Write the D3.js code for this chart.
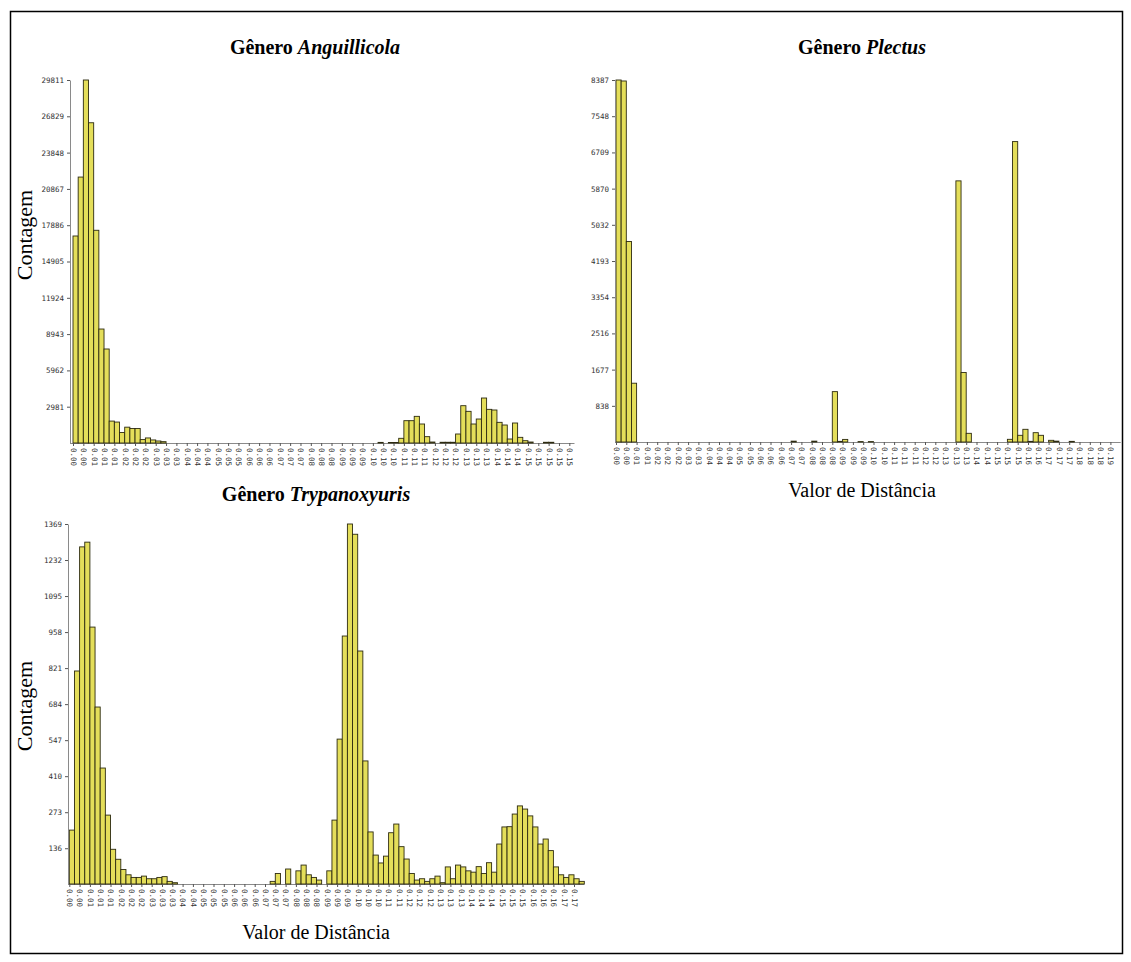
<!DOCTYPE html>
<html>
<head>
<meta charset="utf-8">
<script src="https://cdn.jsdelivr.net/npm/d3@7"></script>
<style>
  body { margin: 0; background: #fff; }
  svg { display: block; }
</style>
</head>
<body>
<svg id="chart" width="1131" height="962"></svg>
<script>
// Pairwise distance histograms (counts per distance bin) for three nematode genera.

const anguillicolaCounts = [
  17000, 21840, 29811, 26300, 17470, 9360, 7720, 1800, 1720, 860,
  1300, 1190, 1190, 280, 415, 250, 165, 110, 0, 0,
  0, 0, 0, 0, 0, 0, 0, 0, 0, 0,
  0, 0, 0, 0, 0, 0, 0, 0, 0, 0,
  0, 0, 0, 0, 0, 0, 0, 0, 0, 0,
  0, 0, 0, 0, 0, 0, 0, 0, 0, 50,
  0, 40, 40, 385, 1833, 1833, 2189, 1560, 520, 80,
  0, 60, 60, 60, 739, 3064, 2600, 1560, 1970, 3694,
  2764, 2710, 1697, 1478, 328, 1642, 465, 190, 80, 0,
  0, 60, 60, 0, 0, 0, 0
];
const anguillicolaYTicks = [2981, 5962, 8943, 11924, 14905, 17886, 20867, 23848, 26829, 29811];
const anguillicolaXLabels = [
  "0.00", "0.00", "0.01", "0.01", "0.01", "0.02", "0.02", "0.02", "0.03", "0.03",
  "0.03", "0.04", "0.04", "0.04", "0.05", "0.05", "0.05", "0.06", "0.06", "0.06",
  "0.07", "0.07", "0.07", "0.08", "0.08", "0.08", "0.09", "0.09", "0.09", "0.10",
  "0.10", "0.10", "0.11", "0.11", "0.11", "0.12", "0.12", "0.12", "0.13", "0.13",
  "0.13", "0.14", "0.14", "0.14", "0.15", "0.15", "0.15", "0.15", "0.15"
];

const plectusCounts = [
  8387, 8364, 4645, 1362, 0, 0, 0, 0, 0, 0,
  0, 0, 0, 0, 0, 0, 0, 0, 0, 0,
  0, 0, 0, 0, 0, 0, 0, 0, 0, 0,
  0, 0, 0, 0, 20, 0, 0, 0, 20, 0,
  0, 0, 1167, 15, 60, 0, 0, 10, 0, 10,
  0, 0, 0, 0, 0, 0, 0, 0, 0, 0,
  0, 0, 0, 0, 0, 0, 6050, 1610, 201, 0,
  0, 0, 0, 0, 0, 0, 62, 6960, 155, 294,
  15, 216, 155, 0, 39, 20, 0, 0, 15, 0,
  0, 0, 0, 0, 0, 0, 0, 0
];
const plectusYTicks = [838, 1677, 2516, 3354, 4193, 5032, 5870, 6709, 7548, 8387];
const plectusXLabels = [
  "0.00", "0.00", "0.01", "0.01", "0.02", "0.02", "0.02", "0.03", "0.03", "0.04",
  "0.04", "0.04", "0.05", "0.05", "0.06", "0.06", "0.06", "0.07", "0.07", "0.08",
  "0.08", "0.08", "0.09", "0.09", "0.09", "0.10", "0.10", "0.11", "0.11", "0.11",
  "0.12", "0.12", "0.13", "0.13", "0.13", "0.14", "0.14", "0.15", "0.15", "0.15",
  "0.16", "0.16", "0.17", "0.17", "0.17", "0.18", "0.18", "0.18", "0.19"
];

const trypanoxyurisCounts = [
  205, 810, 1282, 1300, 977, 673, 441, 262, 132, 94,
  55, 35, 25, 25, 30, 20, 20, 25, 28, 10,
  5, 0, 0, 0, 0, 0, 0, 0, 0, 0,
  0, 0, 0, 0, 0, 0, 0, 0, 0, 10,
  40, 0, 57, 0, 50, 72, 35, 25, 15, 0,
  50, 243, 551, 943, 1369, 1330, 886, 468, 198, 110,
  80, 106, 195, 228, 142, 95, 40, 15, 20, 10,
  20, 30, 5, 65, 20, 72, 65, 50, 45, 66,
  40, 81, 45, 152, 217, 218, 266, 297, 285, 259,
  217, 152, 171, 127, 65, 35, 25, 35, 20, 10
];
const trypanoxyurisYTicks = [136, 273, 410, 547, 684, 821, 958, 1095, 1232, 1369];
const trypanoxyurisXLabels = [
  "0.00", "0.00", "0.01", "0.01", "0.01", "0.02", "0.02", "0.02", "0.03", "0.03",
  "0.03", "0.04", "0.04", "0.05", "0.05", "0.05", "0.06", "0.06", "0.06", "0.07",
  "0.07", "0.07", "0.08", "0.08", "0.08", "0.09", "0.09", "0.09", "0.10", "0.10",
  "0.10", "0.11", "0.11", "0.12", "0.12", "0.12", "0.13", "0.13", "0.13", "0.14",
  "0.14", "0.14", "0.15", "0.15", "0.15", "0.16", "0.16", "0.16", "0.17", "0.17"
];

const yAxisTitle = "Contagem";
const xAxisTitle = "Valor de Distância";

const panels = [
  { genus: "Anguillicola", counts: anguillicolaCounts, yTicks: anguillicolaYTicks, xLabels: anguillicolaXLabels,
    axisX: 70, barX: 73, barW: 5.17, top: 80, base: 443,
    titleX: 315, titleY: 54, yTitle: { x: 32, y: 235 }, xTitle: null },
  { genus: "Plectus", counts: plectusCounts, yTicks: plectusYTicks, xLabels: plectusXLabels,
    axisX: 615, barX: 616, barW: 5.15, top: 80, base: 442,
    titleX: 862, titleY: 54, yTitle: null, xTitle: { x: 862, y: 497 } },
  { genus: "Trypanoxyuris", counts: trypanoxyurisCounts, yTicks: trypanoxyurisYTicks, xLabels: trypanoxyurisXLabels,
    axisX: 68, barX: 69.3, barW: 5.15, top: 524, base: 884,
    titleX: 316, titleY: 501, yTitle: { x: 32, y: 706 }, xTitle: { x: 316, y: 939 } }
];

const svg = d3.select("#chart");
const serif = "'Liberation Serif', 'Times New Roman', serif";
const mono = "'DejaVu Sans Mono', monospace";

svg.append("rect")
  .attr("x", 10.5).attr("y", 11.5)
  .attr("width", 1112).attr("height", 942)
  .attr("fill", "#fff").attr("stroke", "#000").attr("stroke-width", 1.5);

function drawPanel(p) {
  const g = svg.append("g");
  const n = p.counts.length;
  const yMax = d3.max(p.counts);

  const x = d3.scaleLinear().domain([0, n]).range([p.barX, p.barX + n * p.barW]);
  const y = d3.scaleLinear().domain([0, yMax]).range([p.base, p.top]);

  // baseline
  g.append("line")
    .attr("x1", p.axisX).attr("x2", x(n))
    .attr("y1", p.base + 0.5).attr("y2", p.base + 0.5)
    .attr("stroke", "#8a8a8a").attr("stroke-width", 1);

  // bars (empty bins are left blank)
  g.append("g").selectAll("rect")
    .data(p.counts.map((v, i) => ({ v, i })).filter(d => d.v > 0))
    .join("rect")
    .attr("x", d => x(d.i))
    .attr("y", d => y(d.v))
    .attr("width", d => x(d.i + 1) - x(d.i))
    .attr("height", d => p.base - y(d.v))
    .attr("fill", "#e4de5a")
    .attr("stroke", "#2d2b10")
    .attr("stroke-width", 0.9);

  // y axis
  const yAxis = d3.axisLeft(y)
    .tickValues(p.yTicks)
    .tickFormat(d3.format("d"))
    .tickSize(3).tickSizeOuter(0).tickPadding(3);
  const ya = g.append("g").attr("transform", `translate(${p.axisX},0)`).call(yAxis);
  ya.select(".domain").attr("stroke", "#8a8a8a");
  ya.selectAll(".tick line").attr("stroke", "#555");
  ya.selectAll(".tick text")
    .attr("font-family", mono).attr("font-size", 7.5).attr("fill", "#333");

  // x axis: a tick at every second bin, labels read top to bottom
  const xAxis = d3.axisBottom(x)
    .tickValues(p.xLabels.map((_, k) => 2 * k))
    .tickFormat(d => p.xLabels[d / 2])
    .tickSize(3).tickSizeOuter(0);
  const xa = g.append("g").attr("transform", `translate(0,${p.base})`).call(xAxis);
  xa.select(".domain").remove();
  xa.selectAll(".tick line").attr("stroke", "#555");
  xa.selectAll(".tick text")
    .attr("transform", "rotate(90)")
    .attr("text-anchor", "start")
    .attr("x", 5).attr("y", 0).attr("dy", "0.35em")
    .attr("font-family", mono).attr("font-size", 7.5).attr("fill", "#333");

  // panel title
  const t = svg.append("text")
    .attr("x", p.titleX).attr("y", p.titleY)
    .attr("text-anchor", "middle")
    .attr("font-family", serif).attr("font-size", 20).attr("font-weight", "bold")
    .attr("fill", "#000");
  t.append("tspan").text("Gênero ");
  t.append("tspan").attr("font-style", "italic").text(p.genus);

  if (p.yTitle) {
    svg.append("text")
      .attr("transform", `translate(${p.yTitle.x},${p.yTitle.y}) rotate(-90)`)
      .attr("text-anchor", "middle")
      .attr("font-family", serif).attr("font-size", 22).attr("fill", "#000")
      .text(yAxisTitle);
  }
  if (p.xTitle) {
    svg.append("text")
      .attr("x", p.xTitle.x).attr("y", p.xTitle.y)
      .attr("text-anchor", "middle")
      .attr("font-family", serif).attr("font-size", 20).attr("fill", "#000")
      .text(xAxisTitle);
  }
}

panels.forEach(drawPanel);
</script>
</body>
</html>
